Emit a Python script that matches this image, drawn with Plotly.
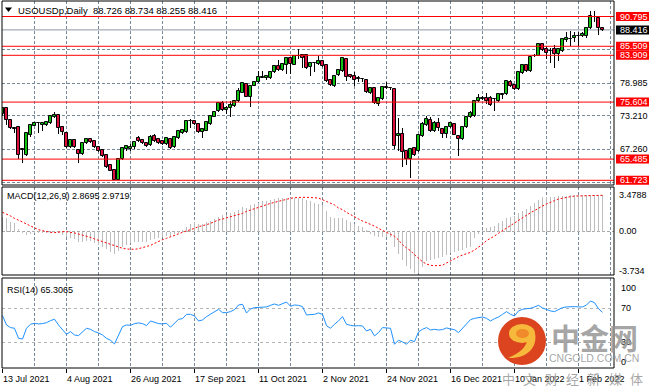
import plotly.graph_objects as go

# ---------------- data ----------------
opens = [73.43, 74.50, 72.43, 71.00, 71.12, 67.20, 66.21, 69.76, 71.42, 71.90,
         71.54, 71.48, 71.95, 72.90, 73.31, 71.24, 70.18, 67.57, 68.88, 67.10,
         66.39, 68.28, 69.05, 68.70, 67.69, 67.10, 66.21, 64.44, 63.55, 61.78,
         65.44, 67.22, 67.22, 67.57, 69.17, 68.88, 68.40, 67.99, 69.59, 69.05,
         68.70, 68.11, 69.05, 67.57, 69.17, 70.18, 70.35, 72.25, 72.25, 71.71,
         70.24, 70.53, 71.66, 73.02, 74.08, 75.39, 74.19, 74.61, 74.91, 75.81,
         77.30, 78.79, 76.58, 78.49, 79.09, 79.95, 79.81, 79.86, 80.88, 81.95,
         81.36, 82.25, 83.45, 82.25, 83.75, 84.04, 84.04, 81.78, 82.55, 82.37,
         82.97, 82.25, 79.57, 78.49, 80.46, 81.18, 83.27, 80.40, 80.16, 79.81,
         79.69, 79.57, 77.18, 78.19, 75.21, 76.10, 78.25, 78.10, 77.90, 69.54,
         69.95, 66.97, 65.48, 67.45, 66.97, 69.54, 71.45, 72.34, 70.43, 71.93,
         70.85, 70.01, 71.15, 71.75, 69.54, 69.06, 71.15, 73.00, 73.12, 75.81,
         76.10, 76.40, 76.40, 76.12, 75.81, 76.82, 77.00, 79.09, 78.61, 77.90,
         80.76, 82.19, 81.18, 83.80, 83.87, 85.89, 84.99, 84.70, 84.99, 84.10,
         84.70, 86.67, 86.80, 86.91, 87.40, 87.26, 87.30, 88.70, 90.70, 90.49,
         88.726]
highs = [74.70, 74.70, 72.50, 71.20, 71.20, 67.40, 70.30, 71.60, 71.95, 72.13,
         72.05, 72.20, 73.25, 73.78, 73.50, 71.40, 70.30, 69.00, 69.00, 67.20,
         68.50, 69.20, 69.20, 68.90, 67.80, 67.30, 66.40, 64.60, 63.70, 65.60,
         67.50, 68.00, 68.20, 68.70, 69.60, 69.00, 68.60, 69.80, 69.90, 69.20,
         68.90, 69.40, 69.20, 69.50, 70.60, 70.80, 72.50, 72.54, 72.40, 71.90,
         70.95, 72.10, 73.30, 74.05, 75.60, 75.81, 74.91, 75.81, 75.95, 78.19,
         79.15, 79.00, 78.60, 79.30, 81.18, 81.06, 80.40, 81.00, 82.10, 83.15,
         82.50, 83.60, 83.60, 84.00, 85.06, 84.20, 84.20, 82.70, 82.80, 83.87,
         83.10, 82.40, 79.70, 80.40, 81.45, 83.60, 83.50, 80.60, 80.88, 80.28,
         79.81, 79.70, 78.30, 78.30, 76.50, 78.50, 79.09, 78.25, 78.00, 72.70,
         71.03, 67.10, 67.40, 67.60, 70.00, 72.00, 73.12, 73.00, 72.20, 72.82,
         71.00, 71.40, 72.10, 71.90, 69.70, 71.35, 73.10, 74.00, 75.95, 77.00,
         76.60, 77.30, 76.60, 76.30, 77.10, 77.25, 79.40, 79.50, 78.75, 81.00,
         82.40, 82.40, 83.70, 84.16, 86.10, 86.00, 85.50, 85.29, 85.77, 85.10,
         86.90, 87.98, 88.16, 88.10, 87.98, 88.00, 88.90, 91.74, 91.74, 90.60,
         88.734]
lows = [73.20, 71.54, 70.90, 70.06, 65.44, 64.85, 66.10, 69.47, 71.30, 70.18,
        70.53, 71.30, 71.80, 72.80, 69.94, 69.76, 67.50, 67.40, 67.40, 64.85,
        66.20, 68.10, 68.40, 67.40, 66.80, 65.90, 63.90, 63.30, 61.74, 61.74,
        65.30, 66.90, 66.90, 67.30, 68.50, 68.10, 67.60, 67.80, 68.60, 68.20,
        67.90, 67.90, 67.20, 67.40, 69.00, 70.00, 70.20, 70.95, 71.50, 70.10,
        69.17, 70.40, 71.50, 72.90, 73.90, 74.02, 73.42, 73.00, 74.80, 75.70,
        77.20, 76.50, 74.73, 78.40, 78.95, 79.81, 79.50, 79.70, 80.70, 81.20,
        81.20, 80.58, 80.58, 82.10, 83.27, 81.66, 81.50, 80.16, 80.88, 82.20,
        81.90, 79.20, 78.50, 78.30, 80.30, 81.00, 79.39, 79.90, 78.49, 79.09,
        79.21, 77.30, 77.00, 75.30, 74.91, 75.90, 77.90, 77.90, 67.27, 66.97,
        64.16, 64.46, 62.19, 66.10, 66.80, 69.40, 71.30, 70.30, 70.30, 70.43,
        69.24, 69.24, 71.00, 69.70, 65.96, 68.90, 71.00, 72.80, 73.00, 75.70,
        75.90, 75.21, 74.91, 74.02, 75.70, 76.22, 76.90, 78.30, 77.70, 77.80,
        80.60, 81.00, 81.00, 83.60, 83.70, 84.70, 83.27, 82.61, 81.71, 82.90,
        84.50, 86.19, 85.59, 86.19, 85.59, 87.10, 86.90, 88.50, 89.89, 87.50,
        88.255]
closes = [74.50, 72.43, 71.06, 70.85, 66.21, 67.10, 70.18, 71.54, 71.83, 71.95,
          71.95, 72.07, 73.14, 73.31, 70.95, 70.35, 67.69, 68.88, 67.57, 66.39,
          68.40, 69.05, 68.58, 67.57, 66.98, 66.09, 64.14, 63.43, 61.78, 65.44,
          67.40, 67.81, 67.57, 68.58, 68.76, 68.28, 67.81, 69.47, 68.76, 68.40,
          68.16, 69.29, 67.40, 69.35, 70.47, 70.65, 72.31, 72.30, 71.71, 70.24,
          70.83, 72.01, 73.19, 73.90, 75.38, 74.19, 74.61, 75.03, 75.81, 77.60,
          78.97, 76.58, 78.49, 79.09, 79.98, 80.00, 80.28, 80.88, 81.95, 81.36,
          82.37, 83.45, 82.37, 83.87, 83.70, 83.39, 81.60, 82.55, 82.60, 82.97,
          82.07, 79.39, 78.67, 80.28, 81.30, 83.45, 79.98, 80.10, 79.57, 79.78,
          79.66, 77.42, 78.19, 75.51, 76.40, 78.37, 78.19, 78.07, 67.86, 69.95,
          66.67, 65.48, 67.27, 66.25, 69.84, 71.63, 72.52, 70.43, 71.81, 71.03,
          70.01, 71.21, 71.81, 69.84, 69.12, 71.21, 72.94, 73.60, 75.81, 76.40,
          76.40, 75.81, 75.09, 76.10, 77.00, 77.12, 79.27, 78.49, 77.90, 80.88,
          82.19, 81.18, 83.57, 83.87, 85.95, 84.88, 84.40, 84.65, 84.10, 84.99,
          86.79, 86.91, 86.85, 87.26, 87.38, 87.68, 88.70, 90.85, 90.67, 88.70,
          88.416]

macd_main = [1.35, 1.25, 0.94, 0.78, 0.21, -0.17, -0.33, -0.24, -0.17, -0.17,
             -0.11, -0.17, -0.11, -0.05, -0.17, -0.33, -0.56, -0.62, -0.75, -0.97,
             -0.97, -0.91, -0.94, -1.06, -1.25, -1.45, -1.64, -1.92, -2.14, -1.83,
             -1.45, -1.29, -1.13, -1.03, -0.97, -0.97, -1.00, -0.81, -0.75, -0.65,
             -0.56, -0.43, -0.43, -0.27, -0.08, 0.14, 0.46, 0.71, 0.86, 0.74,
             0.76, 0.89, 1.02, 1.21, 1.43, 1.56, 1.59, 1.75, 1.84, 2.03,
             2.29, 2.22, 2.51, 2.61, 2.73, 2.92, 2.92, 2.99, 3.08, 3.15,
             3.18, 3.24, 3.24, 3.24, 3.24, 3.24, 3.02, 2.86, 2.70, 2.61,
             2.54, 1.97, 1.43, 1.33, 1.24, 1.24, 1.11, 0.86, 0.70, 0.48,
             0.44, 0.06, -0.19, -0.41, -0.57, -0.57, -0.51, -0.57, -1.52, -2.16,
             -2.73, -3.27, -3.59, -3.91, -3.99, -3.42, -2.84, -2.72, -2.62, -2.53,
             -2.40, -2.21, -2.08, -1.99, -1.83, -1.76, -1.60, -1.45, -0.65, -0.25,
             0.05, 0.33, 0.46, 0.56, 0.78, 0.97, 1.25, 1.41, 1.51, 1.73,
             1.99, 2.14, 2.46, 2.68, 3.00, 3.26, 3.26, 3.32, 3.32, 3.35,
             3.41, 3.41, 3.45, 3.45, 3.45, 3.45, 3.45, 3.51, 3.51, 3.48,
             3.45]
macd_signal = [1.83, 1.67, 1.48, 1.25, 1.10, 0.91, 0.71, 0.52, 0.30, 0.17,
               0.08, -0.02, -0.08, -0.11, -0.05, -0.02, -0.02, -0.05, -0.14, -0.24,
               -0.33, -0.46, -0.56, -0.71, -0.84, -0.97, -1.10, -1.19, -1.32, -1.48,
               -1.60, -1.67, -1.70, -1.70, -1.64, -1.54, -1.45, -1.32, -1.13, -0.94,
               -0.78, -0.65, -0.49, -0.37, -0.21, -0.08, 0.05, 0.14, 0.30, 0.46,
               0.52, 0.65, 0.78, 0.97, 1.10, 1.19, 1.29, 1.38, 1.48, 1.60,
               1.73, 1.92, 2.05, 2.21, 2.34, 2.43, 2.59, 2.68, 2.78, 2.88,
               3.00, 3.10, 3.16, 3.22, 3.26, 3.26, 3.26, 3.26, 3.26, 3.19,
               3.03, 2.88, 2.72, 2.53, 2.24, 2.08, 1.83, 1.60, 1.35, 1.19,
               1.00, 0.84, 0.71, 0.52, 0.30, 0.08, -0.08, -0.27, -0.46, -0.81,
               -1.25, -1.57, -1.83, -2.21, -2.53, -2.88, -3.10, -3.22, -3.26, -3.26,
               -3.22, -3.00, -2.78, -2.59, -2.40, -2.24, -2.11, -1.99, -1.76, -1.51,
               -1.22, -0.87, -0.68, -0.43, -0.17, 0.08, 0.37, 0.59, 0.84, 1.10,
               1.32, 1.60, 1.79, 1.99, 2.24, 2.43, 2.62, 2.75, 2.94, 3.10,
               3.19, 3.29, 3.32, 3.38, 3.38, 3.38, 3.42, 3.45, 3.45, 3.45,
               3.45]
rsi = [61.4, 50.4, 47.3, 46.5, 34.7, 33.9, 46.5, 51.2, 52.4, 51.6,
       52.0, 53.1, 55.5, 57.1, 50.4, 44.5, 39.4, 42.6, 38.6, 37.9,
       42.6, 46.5, 45.3, 42.6, 41.0, 38.6, 34.7, 32.4, 28.1, 38.6,
       48.4, 50.4, 50.0, 52.0, 52.8, 52.0, 49.6, 55.1, 53.5, 52.0,
       51.6, 52.4, 47.7, 52.4, 57.1, 57.8, 62.9, 62.9, 61.0, 55.1,
       56.3, 60.2, 63.3, 65.7, 68.8, 64.9, 64.9, 66.1, 68.4, 73.9,
       74.7, 64.5, 69.2, 70.8, 71.2, 71.2, 71.6, 73.5, 75.1, 73.5,
       75.5, 77.4, 72.4, 73.9, 73.5, 72.0, 62.2, 62.9, 62.9, 64.5,
       62.9, 49.6, 46.5,
       51.2, 55.1, 60.2, 51.2, 50.0, 49.2, 49.6, 49.2, 43.3, 45.3,
       37.5, 41.4, 47.3, 47.3, 46.5, 27.7, 32.4, 30.4, 27.7, 32.4,
       30.8, 42.2, 45.3, 47.3, 44.5, 45.3, 44.5, 44.9, 46.9, 45.7,
       44.9, 41.4, 46.5, 51.2, 56.7, 58.2, 59.0, 59.8, 58.2, 55.1,
       57.8, 59.8, 62.9, 66.1, 62.9, 61.0, 66.9, 68.8, 69.6, 70.0,
       71.6,
       73.5, 70.4, 68.4, 66.9, 66.1, 68.8, 70.8, 71.6, 72.0, 72.0,
       71.6, 71.6, 73.9, 78.6, 76.7, 69.6, 65.3]

tick_pos = [0, 16, 32, 48, 64, 80, 96, 112, 128, 144]
tick_labels = ["13 Jul 2021", "4 Aug 2021", "26 Aug 2021", "17 Sep 2021",
               "11 Oct 2021", "2 Nov 2021", "24 Nov 2021", "16 Dec 2021",
               "10 Jan 2022", "1 Feb 2022"]

levels = [90.795, 85.509, 83.909, 75.604, 65.485, 61.723]
level_labels = ["90.795", "85.509", "83.909", "75.604", "65.485", "61.723"]
price_grid = [90.71, 84.85, 78.985, 73.210, 67.260, 61.36]
price_axis_vals = [78.985, 73.210, 67.260]
price_axis_text = ["78.985", "73.210", "67.260"]
last_price = 88.416
last_price_text = "88.416"
macd_axis_vals = [3.4788, 0.0, -3.734]
macd_axis_text = ["3.4788", "0.00", "-3.734"]
rsi_levels = [30, 70]
rsi_axis_vals = [100, 70, 30, 0]
rsi_axis_text = ["100", "70", "30", "0"]

title_text = "USOUSDp,Daily  88.726 88.734 88.255 88.416"
macd_title = "MACD(12,26,9) 2.8695 2.9719"
rsi_title = "RSI(14) 65.3065"

# ---------------- styling ----------------
W, H = 655, 390
ML, MR, MT, MB = 2, 41, 1, 22
PW, PH = W - ML - MR, H - MT - MB
FONT = "Liberation Sans, Arial, sans-serif"
GREEN = "#12C012"
RED = "#E0103C"
GRID = "#778899"


def pxx(x):
    return (x - ML) / PW


def pxy(y):
    return (H - MB - y) / PH


n = len(closes)
xs = list(range(n))
up = [i for i in xs if closes[i] >= opens[i]]
dn = [i for i in xs if closes[i] < opens[i]]

fig = go.Figure()

# wicks
fig.add_trace(go.Bar(x=xs, y=[highs[i] - lows[i] for i in xs], base=lows,
                     width=0.22, marker=dict(color="black", line=dict(width=0)),
                     yaxis="y", showlegend=False, hoverinfo="skip"))
# bodies
for idx, col in ((up, GREEN), (dn, RED)):
    fig.add_trace(go.Bar(
        x=idx,
        y=[max(abs(closes[i] - opens[i]), 0.03) for i in idx],
        base=[min(opens[i], closes[i]) for i in idx],
        width=0.78, marker=dict(color=col, line=dict(color="black", width=1)),
        yaxis="y", showlegend=False, hoverinfo="skip"))

# MACD histogram + signal
fig.add_trace(go.Bar(x=xs, y=macd_main, width=0.25,
                     marker=dict(color="#BDBDBD", line=dict(width=0)),
                     yaxis="y2", showlegend=False, hoverinfo="skip"))
fig.add_trace(go.Scatter(x=xs, y=macd_signal, mode="lines",
                         line=dict(color="#FF0000", width=1, dash="2px,2px"),
                         yaxis="y2", showlegend=False, hoverinfo="skip"))

# RSI
fig.add_trace(go.Scatter(x=xs, y=rsi, mode="lines",
                         line=dict(color="#1E90FF", width=1),
                         yaxis="y3", showlegend=False, hoverinfo="skip"))

shapes = []
annotations = []

# level lines
for lv in levels:
    shapes.append(dict(type="line", xref="paper", x0=0, x1=1, yref="y", y0=lv, y1=lv,
                       line=dict(color="#FF0000", width=1), layer="above"))
# bid line
shapes.append(dict(type="line", xref="paper", x0=0, x1=1, yref="y", y0=last_price,
                   y1=last_price, line=dict(color="#8C96A3", width=1), layer="below"))
# MACD zero line
shapes.append(dict(type="line", xref="paper", x0=0, x1=1, yref="y2", y0=0, y1=0,
                   line=dict(color="#A8A8A8", width=1, dash="3px,2px"), layer="below"))

# panel borders
for (ya, yb) in ((1, 185), (187, 275), (278, 368)):
    shapes.append(dict(type="rect", xref="paper", yref="paper",
                       x0=0, x1=1, y0=pxy(yb), y1=pxy(ya),
                       line=dict(color="black", width=1), layer="above"))


# right-side label boxes
def label_box(yref, val, text, bg, fg):
    if bg:
        shapes.append(dict(type="rect", xref="paper", xsizemode="pixel", xanchor=1,
                           x0=2, x1=35, yref=yref, ysizemode="pixel", yanchor=val,
                           y0=-4.5, y1=4.5, fillcolor=bg, line=dict(width=0),
                           layer="above"))
    annotations.append(dict(xref="paper", x=1, xanchor="left", xshift=4,
                            yref=yref, y=val, yanchor="middle", text=text,
                            showarrow=False, font=dict(family=FONT, size=9, color=fg)))


for v, t in zip(price_axis_vals, price_axis_text):
    label_box("y", v, t, None, "black")
for lv, t in zip(levels, level_labels):
    label_box("y", lv, t, "#FF0000", "white")
label_box("y", last_price, last_price_text, "#000000", "white")
for v, t in zip(macd_axis_vals, macd_axis_text):
    annotations.append(dict(xref="paper", x=1, xanchor="left", xshift=3, yref="y2",
                            y=v, yanchor="middle", text=t, showarrow=False,
                            font=dict(family=FONT, size=9, color="black")))
rsi_shift = {100: -5, 70: 0, 30: 0, 0: 6}
for v, t in zip(rsi_axis_vals, rsi_axis_text):
    annotations.append(dict(xref="paper", x=1, xanchor="left", xshift=5, yref="y3",
                            y=v, yshift=rsi_shift[v], yanchor="middle", text=t,
                            showarrow=False, font=dict(family=FONT, size=9, color="black")))

# x labels (left aligned at tick)
for p, t in zip(tick_pos, tick_labels):
    annotations.append(dict(xref="x", x=p, xanchor="left", xshift=-2, yref="paper",
                            y=pxy(378.5), yanchor="middle", text=t, showarrow=False,
                            font=dict(family=FONT, size=9, color="black")))

# titles
shapes.append(dict(type="path", xref="paper", yref="paper",
                   path=f"M {pxx(5)},{pxy(7.5)} L {pxx(12)},{pxy(7.5)} L {pxx(8.5)},{pxy(12)} Z",
                   fillcolor="black", line=dict(width=0), layer="above"))
annotations.append(dict(xref="paper", x=pxx(16), xanchor="left", yref="paper",
                        y=pxy(10.5), yanchor="middle", text=title_text, showarrow=False,
                        font=dict(family=FONT, size=9.5, color="black")))
annotations.append(dict(xref="paper", x=pxx(5), xanchor="left", yref="paper",
                        y=pxy(196), yanchor="middle", text=macd_title, showarrow=False,
                        font=dict(family=FONT, size=9, color="black")))
annotations.append(dict(xref="paper", x=pxx(5), xanchor="left", yref="paper",
                        y=pxy(290), yanchor="middle", text=rsi_title, showarrow=False,
                        font=dict(family=FONT, size=9, color="black")))

# watermark (logo + text)
shapes.append(dict(type="circle", xref="paper", yref="paper",
                   x0=pxx(498), x1=pxx(546), y0=pxy(365), y1=pxy(317),
                   fillcolor="#DC4420", line=dict(width=0), layer="above"))
shapes.append(dict(type="circle", xref="paper", yref="paper",
                   x0=pxx(509), x1=pxx(535), y0=pxy(343), y1=pxy(324),
                   fillcolor="#F6B93B", line=dict(width=0), layer="above"))
shapes.append(dict(type="circle", xref="paper", yref="paper",
                   x0=pxx(516), x1=pxx(529), y0=pxy(338), y1=pxy(329),
                   fillcolor="#F08A2A", line=dict(width=0), layer="above"))
shapes.append(dict(type="path", xref="paper", yref="paper",
                   path=(f"M {pxx(535)},{pxy(333)} C {pxx(538)},{pxy(348)} {pxx(526)},{pxy(359)} "
                         f"{pxx(508)},{pxy(358)} C {pxx(520)},{pxy(353)} {pxx(527)},{pxy(347)} "
                         f"{pxx(528)},{pxy(337)} Z"),
                   fillcolor="#F6B93B", line=dict(width=0), layer="above"))
annotations.append(dict(xref="paper", x=pxx(594), xanchor="center", yref="paper",
                        y=pxy(337), yanchor="middle", text="<b>中金网</b>", showarrow=False,
                        font=dict(family="Noto Sans CJK SC", size=29,
                                  color="rgba(150,150,150,0.85)")))
annotations.append(dict(xref="paper", x=pxx(594), xanchor="center", yref="paper",
                        y=pxy(358), yanchor="middle", text="CNGOLD.COM.CN", showarrow=False,
                        font=dict(family=FONT, size=10.5, color="rgba(150,150,150,0.85)")))
for k, ch in enumerate("中文财经新媒体"):
    annotations.append(dict(xref="paper", x=pxx(508.5 + k * 21.3), xanchor="center",
                            yref="paper", y=pxy(379), yanchor="middle", text=ch,
                            showarrow=False,
                            font=dict(family="Noto Sans CJK SC", size=13,
                                      color="rgba(150,150,150,0.85)")))

fig.update_layout(
    width=W, height=H,
    margin=dict(l=ML, r=MR, t=MT, b=MB, pad=0),
    paper_bgcolor="white", plot_bgcolor="white",
    barmode="overlay", bargap=0, showlegend=False,
    shapes=shapes, annotations=annotations,
    xaxis=dict(range=[-0.125, 152.875], anchor="y3", tickmode="linear", tick0=0,
               dtick=16, ticks="outside", ticklen=4, tickcolor="black",
               showticklabels=False, showgrid=True, gridcolor=GRID, gridwidth=1,
               griddash="3px,2px", zeroline=False, showline=False,
               minor=dict(tick0=0, dtick=8, showgrid=True, gridcolor=GRID,
                          griddash="3px,2px", ticks=""),
               fixedrange=True),
    yaxis=dict(domain=[pxy(185), pxy(1)], range=[60.888, 93.546],
               tickmode="array", tickvals=price_grid, showticklabels=False,
               showgrid=True, gridcolor=GRID, griddash="3px,2px", zeroline=False,
               fixedrange=True),
    yaxis2=dict(domain=[pxy(275), pxy(187)], range=[-4.145, 4.241],
                showticklabels=False, showgrid=False, zeroline=False, fixedrange=True),
    yaxis3=dict(domain=[pxy(368), pxy(278)], range=[-0.24, 105.65],
                tickmode="array", tickvals=rsi_levels, showticklabels=False,
                showgrid=True, gridcolor="#B4B4B4", griddash="3px,3px",
                zeroline=False, fixedrange=True),
)

fig.write_html("out.html", config={"displayModeBar": False},
               post_script="document.body.style.margin='0';"
                           "document.documentElement.style.overflow='hidden';")
